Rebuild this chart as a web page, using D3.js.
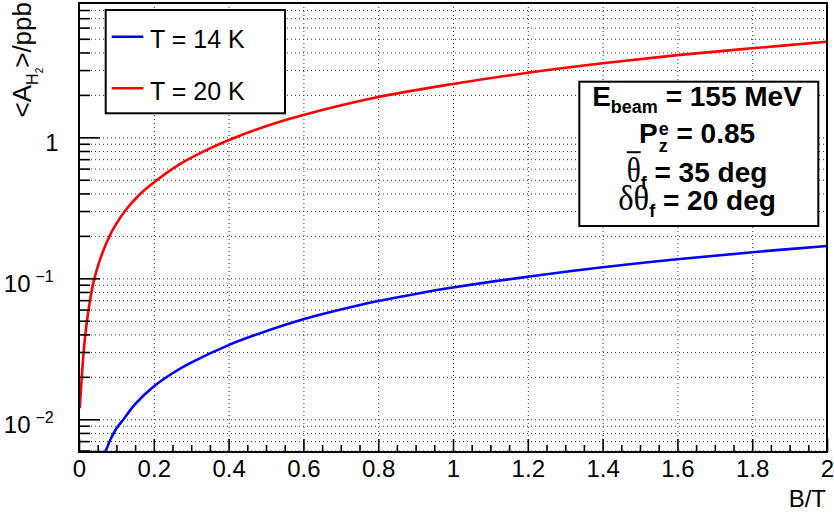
<!DOCTYPE html>
<html>
<head>
<meta charset="utf-8">
<script src="https://cdn.jsdelivr.net/npm/d3@7"></script>
<style>
  body { margin: 0; background: #fff; }
  svg { display: block; }
  text { white-space: pre; }
</style>
</head>
<body>
<svg id="chart" width="834" height="515"></svg>
<script>
// Magnetic field B (T) and mean asymmetry <A_H2> (ppb) for the two target temperatures
const fieldT20 = [0.002, 0.005, 0.008, 0.012, 0.017, 0.024, 0.032, 0.041, 0.055, 0.081, 0.100, 0.123, 0.160, 0.200, 0.275, 0.346, 0.413, 0.50, 0.60, 0.80, 1.00, 1.20, 1.40, 1.60, 1.80, 2.00];
const asymT20  = [0.0120, 0.0160, 0.0210, 0.0290, 0.0400, 0.0560, 0.0760, 0.0990, 0.133, 0.198, 0.244, 0.300, 0.388, 0.478, 0.658, 0.825, 0.985, 1.20, 1.44, 1.93, 2.39, 2.87, 3.35, 3.83, 4.28, 4.76];

// Values below the axis floor are drawn along the bottom of the frame
const fieldT14 = [0.000, 0.020, 0.040, 0.060, 0.069, 0.083, 0.100, 0.119, 0.150, 0.199, 0.250, 0.297, 0.400, 0.494, 0.600, 0.700, 0.800, 0.900, 1.000, 1.200, 1.400, 1.600, 1.800, 2.000];
const asymT14  = [0.0017, 0.0017, 0.0034, 0.0051, 0.0059, 0.0071, 0.0086, 0.0100, 0.0128, 0.0170, 0.0212, 0.0250, 0.0336, 0.0416, 0.0512, 0.0600, 0.0690, 0.0775, 0.0860, 0.1026, 0.1197, 0.1364, 0.1530, 0.1695];

const seriesNames  = ["T = 14 K", "T = 20 K"];
const seriesColors = ["#0000ff", "#ff0000"];

// Axis ticks
const xMajorTicks  = [0, 0.2, 0.4, 0.6, 0.8, 1, 1.2, 1.4, 1.6, 1.8, 2];
const xTickLabels  = ["0", "0.2", "0.4", "0.6", "0.8", "1", "1.2", "1.4", "1.6", "1.8", "2"];
const xMinorStep   = 0.05;
const yDecades     = [0.01, 0.1, 1];
const yDecadeBase  = ["10", "10", "1"];
const yDecadeExp   = ["\u22122", "\u22121", ""];
const yDomain      = [0.00586, 8.97];
const xDomain      = [0, 2];

const SANS  = "'Liberation Sans', Arial, Helvetica, sans-serif";
const SERIF = "'Liberation Serif', 'DejaVu Serif', serif";

const svg = d3.select("#chart");
const frame = { left: 79, top: 3, right: 827, bottom: 452 };
const plotW = frame.right - frame.left, plotH = frame.bottom - frame.top;

const x = d3.scaleLinear().domain(xDomain).range([frame.left, frame.right]);
const y = d3.scaleLog().domain(yDomain).range([frame.bottom, frame.top]).clamp(true);

// Minor ticks
const xMinorTicks = d3.range(0, 2 + 1e-9, xMinorStep).filter(v => Math.abs(v / 0.2 - Math.round(v / 0.2)) > 1e-6);
const yAllTicks = [];
[0.001, 0.01, 0.1, 1].forEach(d => { for (let m = 1; m <= 9; m++) { const v = +(d * m).toPrecision(3); if (v >= yDomain[0] && v <= yDomain[1]) yAllTicks.push(v); } });
const yMinorTicks = yAllTicks.filter(v => !yDecades.includes(v));

// Rich text helper: lays out segments of differing size / offset on a shared baseline
function richText(parent, segs, anchor) {
  const g = parent.append("g");
  let cursor = 0, prevStart = 0;
  const items = [];
  segs.forEach(s => {
    const t = g.append("text").text(s.t)
      .attr("font-size", s.size)
      .attr("font-family", s.family || SANS)
      .attr("font-weight", s.weight || "normal")
      .attr("fill", "#000");
    if (s.squeeze) t.attr("textLength", s.squeeze).attr("lengthAdjust", "spacingAndGlyphs");
    const w = s.squeeze || t.node().getComputedTextLength();
    let start;
    if (s.stack) { start = prevStart; cursor = Math.max(cursor, start + w); }
    else { start = cursor + (s.gap || 0); cursor = start + w; }
    prevStart = start;
    t.attr("x", start).attr("y", s.dy || 0);
    items.push({ node: t, start, w, seg: s });
  });
  const shift = anchor === "middle" ? -cursor / 2 : anchor === "end" ? -cursor : 0;
  g.attr("transform", `translate(${shift},0)`);
  return { g, width: cursor, items, shift };
}

// Clip region
svg.append("defs").append("clipPath").attr("id", "plotClip")
  .append("rect").attr("x", frame.left).attr("y", frame.top).attr("width", plotW).attr("height", plotH);

// Grid (dotted)
const gridStyle = sel => {
  sel.select(".domain").remove();
  sel.selectAll(".tick line").attr("stroke", "#333").attr("stroke-width", 1).attr("stroke-dasharray", "1 3");
};
svg.append("g").attr("transform", `translate(0,${frame.bottom})`)
  .call(d3.axisBottom(x).tickValues(xMajorTicks.filter(v => v > 0 && v < 2)).tickSize(-plotH).tickFormat(""))
  .call(gridStyle);
svg.append("g").attr("transform", `translate(${frame.left},0)`)
  .call(d3.axisLeft(y).tickValues(yAllTicks).tickSize(-plotW).tickFormat(""))
  .call(gridStyle);

// Curves
const line = d3.line().x(d => x(d[0])).y(d => y(d[1])).curve(d3.curveCatmullRom.alpha(0.5));
const series = [d3.zip(fieldT14, asymT14), d3.zip(fieldT20, asymT20)];
const curves = svg.append("g").attr("clip-path", "url(#plotClip)");
series.forEach((pts, i) => {
  curves.append("path").datum(pts).attr("d", line)
    .attr("fill", "none").attr("stroke", seriesColors[i]).attr("stroke-width", 2.6)
    .attr("stroke-linejoin", "round");
});

// Axes: ticks point into the frame
const tickStyle = sel => {
  sel.select(".domain").remove();
  sel.selectAll(".tick line").attr("stroke", "#000").attr("stroke-width", 1.6);
};
const xAxisG = svg.append("g").attr("transform", `translate(0,${frame.bottom})`);
xAxisG.append("g").call(d3.axisBottom(x).tickValues(xMinorTicks).tickSize(-7).tickFormat("")).call(tickStyle);
xAxisG.append("g").call(d3.axisBottom(x).tickValues(xMajorTicks).tickSize(-13)
    .tickFormat((d, i) => xTickLabels[i])).call(tickStyle)
  .selectAll(".tick text")
  .attr("dy", null).attr("y", 24.7)
  .attr("font-family", SANS).attr("font-size", 24).attr("fill", "#000");

const yAxisG = svg.append("g").attr("transform", `translate(${frame.left},0)`);
yAxisG.append("g").call(d3.axisLeft(y).tickValues(yMinorTicks).tickSize(-11).tickFormat("")).call(tickStyle);
const yMajor = yAxisG.append("g").call(d3.axisLeft(y).tickValues(yDecades).tickSize(-21).tickFormat("")).call(tickStyle);
yMajor.selectAll(".tick").each(function (d, i) {
  const holder = d3.select(this).append("g").attr("transform", "translate(-7,13)");
  const segs = [{ t: yDecadeBase[i], size: 24 }];
  if (yDecadeExp[i]) segs.push({ t: yDecadeExp[i], size: 16, dy: -10, gap: -3.5 });
  richText(holder, segs, "end");
});

// Frame
svg.append("rect").attr("x", frame.left).attr("y", frame.top).attr("width", plotW).attr("height", plotH)
  .attr("fill", "none").attr("stroke", "#000").attr("stroke-width", 2);

// Axis titles
svg.append("text").text("B/T").attr("x", 826).attr("y", 507).attr("text-anchor", "end")
  .attr("font-family", SANS).attr("font-size", 24).attr("fill", "#000");

const yTitle = svg.append("g").attr("transform", "translate(31,2) rotate(-90)");
richText(yTitle, [
  { t: "<A", size: 26 },
  { t: "H", size: 16, dy: 7 },
  { t: "2", size: 10, dy: 12 },
  { t: ">/ppb", size: 26 }
], "end");

// Legend
const legend = svg.append("g");
legend.append("rect").attr("x", 105.7).attr("y", 10).attr("width", 179.3).attr("height", 103.3)
  .attr("fill", "#fff").attr("stroke", "#000").attr("stroke-width", 2);
const legendRows = [36.7, 88.3];
seriesNames.forEach((name, i) => {
  legend.append("line").attr("x1", 111.7).attr("x2", 143.3).attr("y1", legendRows[i]).attr("y2", legendRows[i])
    .attr("stroke", seriesColors[i]).attr("stroke-width", 2.6);
  legend.append("text").text(name).attr("x", 150).attr("y", legendRows[i] + 11.5)
    .attr("font-family", SANS).attr("font-size", 25).attr("fill", "#000");
});

// Beam / polarimeter parameters box
const info = svg.append("g");
info.append("rect").attr("x", 579.3).attr("y", 81.7).attr("width", 239).attr("height", 144.3)
  .attr("fill", "#fff").attr("stroke", "#000").attr("stroke-width", 2);
const cx = 697;
const B = "bold";
const infoLines = [
  { base: 106, segs: [{ t: "E", size: 28, weight: B }, { t: "beam", size: 18, weight: B, dy: 7 }, { t: " = 155 MeV", size: 28, weight: B }] },
  { base: 142.7, segs: [{ t: "P", size: 28, weight: B }, { t: "e", size: 18, weight: B, dy: -8, gap: 1 }, { t: "z", size: 18, weight: B, dy: 9, stack: true }, { t: " = 0.85", size: 28, weight: B }] },
  { base: 181.7, segs: [{ t: "\u03b8", size: 36, family: SERIF, squeeze: 14 }, { t: "f", size: 18, weight: B, dy: 7 }, { t: " = 35 deg", size: 28, weight: B }], bar: true },
  { base: 210, segs: [{ t: "\u03b4\u03b8", size: 36, family: SERIF, squeeze: 31 }, { t: "f", size: 18, weight: B, dy: 7 }, { t: " = 20 deg", size: 28, weight: B }] }
];
infoLines.forEach(L => {
  const holder = info.append("g").attr("transform", `translate(${cx},${L.base})`);
  const r = richText(holder, L.segs, "middle");
  if (L.bar) {
    const th = r.items[0];
    r.g.append("line").attr("x1", th.start).attr("x2", th.start + th.w)
      .attr("y1", -29.5).attr("y2", -29.5).attr("stroke", "#000").attr("stroke-width", 2);
  }
});
</script>
</body>
</html>
